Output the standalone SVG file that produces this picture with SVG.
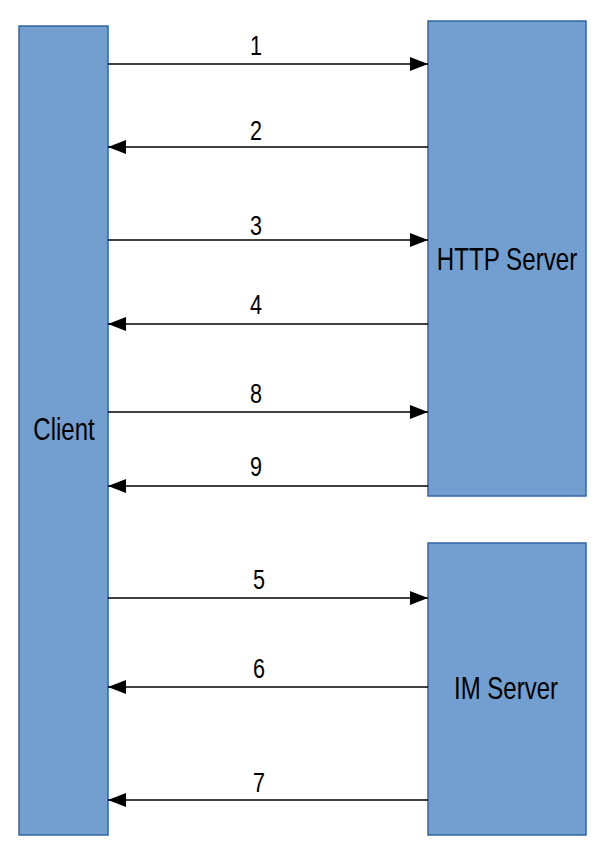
<svg xmlns="http://www.w3.org/2000/svg" width="605" height="856" viewBox="0 0 605 856">
<style>
.box{fill:#729fcf;stroke:#3465a4;stroke-width:1.5}
.lbl{font-family:"Liberation Sans",Arial,sans-serif;font-size:32px;fill:#000;text-anchor:middle}
.num{font-family:"Liberation Sans",Arial,sans-serif;font-size:27px;fill:#000;text-anchor:middle}
.ln{stroke:#000;stroke-width:1.3;fill:none}
</style>
<defs>
<marker id="ah" viewBox="0 0 18 14" refX="18" refY="7" markerWidth="18" markerHeight="14" markerUnits="userSpaceOnUse" orient="auto">
<path d="M0,0 L18,7 L0,14 Z" fill="#000"/>
</marker>
</defs>
<g id="client">
<rect class="box" x="19" y="26" width="89" height="809"/>
<text class="lbl" transform="translate(64,440) scale(0.75,1)">Client</text>
</g>
<g id="http-server">
<rect class="box" x="428" y="21" width="158" height="475"/>
<text class="lbl" transform="translate(507,270) scale(0.755,1)">HTTP Server</text>
</g>
<g id="im-server">
<rect class="box" x="428" y="543" width="158" height="292"/>
<text class="lbl" transform="translate(506,699) scale(0.75,1)">IM Server</text>
</g>
<g id="connectors">
<line class="ln" x1="108" y1="64" x2="428" y2="64" marker-end="url(#ah)"/>
<line class="ln" x1="428" y1="147" x2="108" y2="147" marker-end="url(#ah)"/>
<line class="ln" x1="108" y1="240" x2="428" y2="240" marker-end="url(#ah)"/>
<line class="ln" x1="428" y1="324" x2="108" y2="324" marker-end="url(#ah)"/>
<line class="ln" x1="108" y1="412" x2="428" y2="412" marker-end="url(#ah)"/>
<line class="ln" x1="428" y1="486" x2="108" y2="486" marker-end="url(#ah)"/>
<line class="ln" x1="108" y1="598" x2="428" y2="598" marker-end="url(#ah)"/>
<line class="ln" x1="428" y1="687" x2="108" y2="687" marker-end="url(#ah)"/>
<line class="ln" x1="428" y1="800" x2="108" y2="800" marker-end="url(#ah)"/>
<text class="num" transform="translate(256,55) scale(0.8,1)">1</text>
<text class="num" transform="translate(256,140) scale(0.8,1)">2</text>
<text class="num" transform="translate(256,235) scale(0.8,1)">3</text>
<text class="num" transform="translate(256,314) scale(0.8,1)">4</text>
<text class="num" transform="translate(256,403) scale(0.8,1)">8</text>
<text class="num" transform="translate(256,476) scale(0.8,1)">9</text>
<text class="num" transform="translate(259,589) scale(0.8,1)">5</text>
<text class="num" transform="translate(259,678) scale(0.8,1)">6</text>
<text class="num" transform="translate(259,792) scale(0.8,1)">7</text>
</g>
</svg>
